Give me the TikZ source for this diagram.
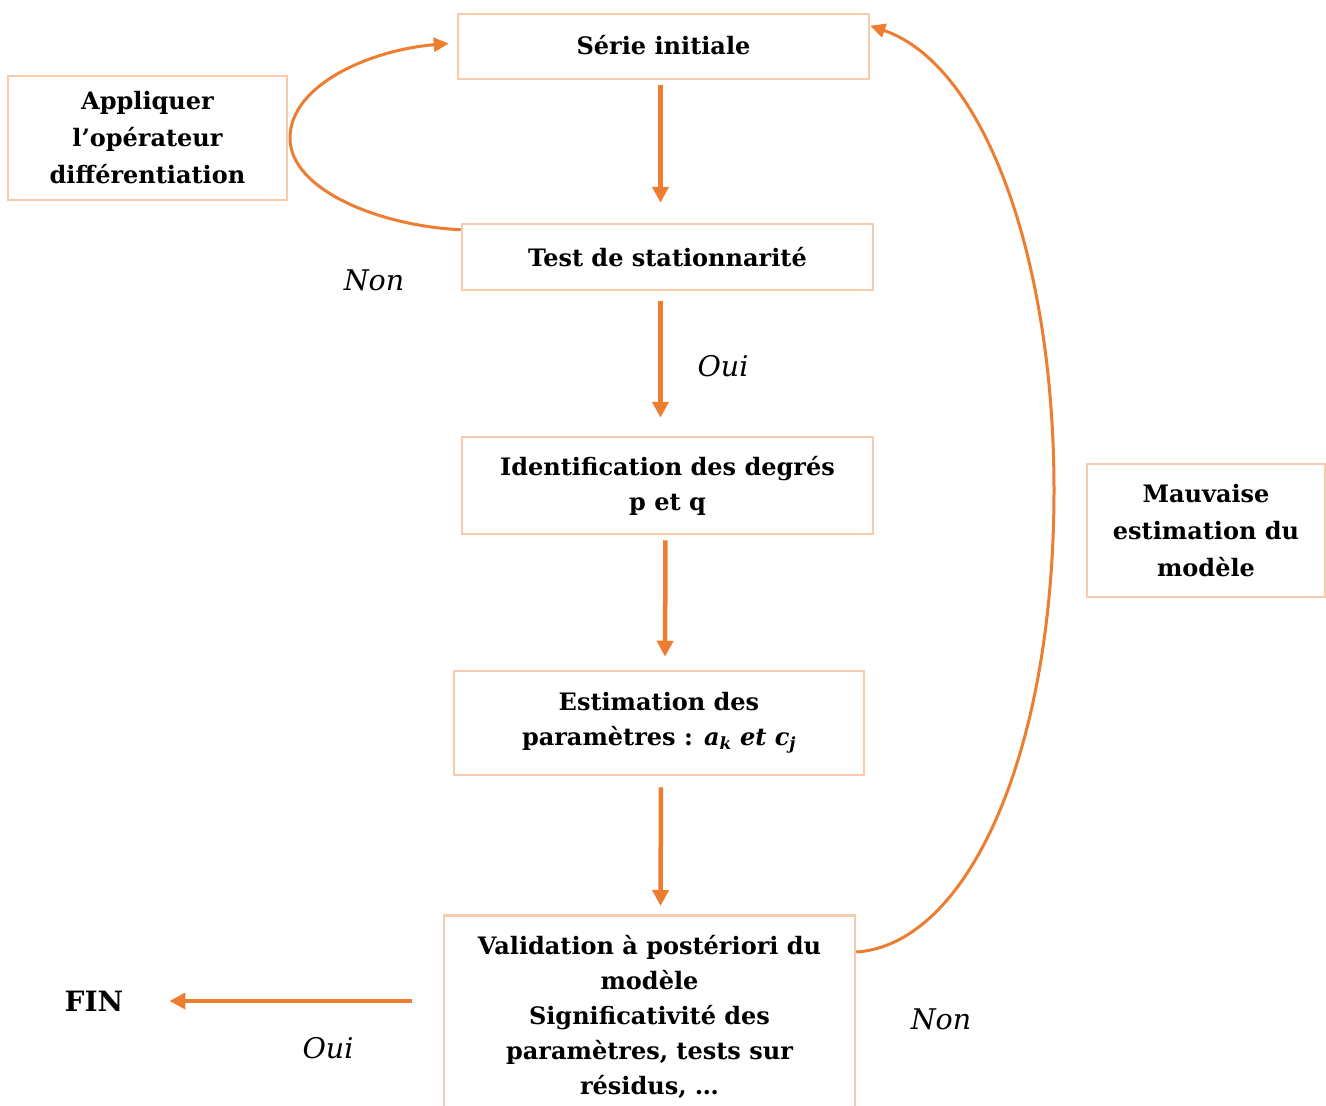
\documentclass[tikz,border=0pt]{standalone}
\usepackage{fontspec}
\setmainfont{DejaVu Serif}
\usetikzlibrary{arrows.meta}
\definecolor{boxc}{HTML}{F8CBAD}
\definecolor{arr}{HTML}{ED7D31}
\newcommand\boxfont{\fontsize{24}{35}\selectfont\bfseries}
\newcommand\wideboxfont{\fontsize{24}{37}\selectfont\bfseries}
\newcommand\lblfont{\fontsize{28.5}{30}\selectfont\itshape}
\begin{document}
\begin{tikzpicture}[x=1pt,y=-1pt,
  box/.style={draw=boxc, line width=2.5pt, align=center, font=\boxfont, inner sep=0pt},
  lbl/.style={font=\lblfont, inner sep=0pt},
  flow/.style={draw=arr, line width=4.5pt, -{Triangle[length=16pt,width=16pt]}},
  loop/.style={draw=arr, line width=3pt, -{Triangle[length=15pt,width=14pt]}}]
\useasboundingbox (0,0) rectangle (1326,1106);

\node[box, minimum width=411pt, minimum height=65pt] (serie) at (663.5,46.5) {\raisebox{3pt}{Série initiale}};
\node[box, font=\wideboxfont, minimum width=279pt, minimum height=124pt] (appl) at (147.5,138) {\raisebox{-3pt}{\parbox{270pt}{\centering Appliquer\\l’opérateur\\différentiation}}};
\node[box, minimum width=411pt, minimum height=66pt] (test) at (667.5,257) {Test de stationnarité};
\node[box, minimum width=411pt, minimum height=97pt] (ident) at (667.5,485.5) {Identification des degrés\\p et q};
\node[box, minimum width=410pt, minimum height=104pt] (estim) at (659,723) {Estimation des\\paramètres : {\itshape a\textsubscript{k} et c\textsubscript{j}}};
\node[box, minimum width=411pt, minimum height=203pt, anchor=north] (valid) at (649.5,914) {Validation à postériori du\\modèle\\Significativité des\\paramètres, tests sur\\résidus, …};
\node[box, font=\wideboxfont, minimum width=238pt, minimum height=133pt] (mauv) at (1206,530.5) {Mauvaise\\estimation du\\modèle};

\node[font=\fontsize{28}{30}\selectfont\bfseries, inner sep=0pt] (fin) at (94,1001) {FIN};
\node[lbl] (non1) at (374,280) {Non};
\node[lbl] (oui1) at (723,366) {Oui};
\node[lbl] (oui2) at (328,1048) {Oui};
\node[lbl] (non2) at (941,1019) {Non};

\draw[flow, shorten <=5pt, shorten >=20pt] ([xshift=-3pt]serie.south) -- ([xshift=-7pt]test.north);
\draw[flow, shorten <=10pt, shorten >=18pt] ([xshift=-7pt]test.south) -- ([xshift=-7pt]ident.north);
\draw[flow, shorten <=5pt, shorten >=13pt] ([xshift=-2pt]ident.south) -- ([xshift=6pt]estim.north);
\draw[flow, shorten <=11pt, shorten >=8pt] ([xshift=2pt]estim.south) -- ([xshift=11pt]valid.north);
\draw[flow, shorten <=31pt, shorten >=46pt] (fin.east -| valid.west) -- (fin.east);

\draw[loop] ([yshift=-7pt]test.north west) .. controls (380,226) and (290,190) .. (290,138)
  .. controls (290,85) and (370,50) .. ([xshift=-8pt,yshift=3pt]serie.west);
\draw[loop] ([yshift=-38pt]valid.north east) .. controls (965,945) and (1054,760) .. (1054,490)
  .. controls (1054,260) and (985,65) .. ([yshift=-13pt]serie.north east);
\end{tikzpicture}
\end{document}
